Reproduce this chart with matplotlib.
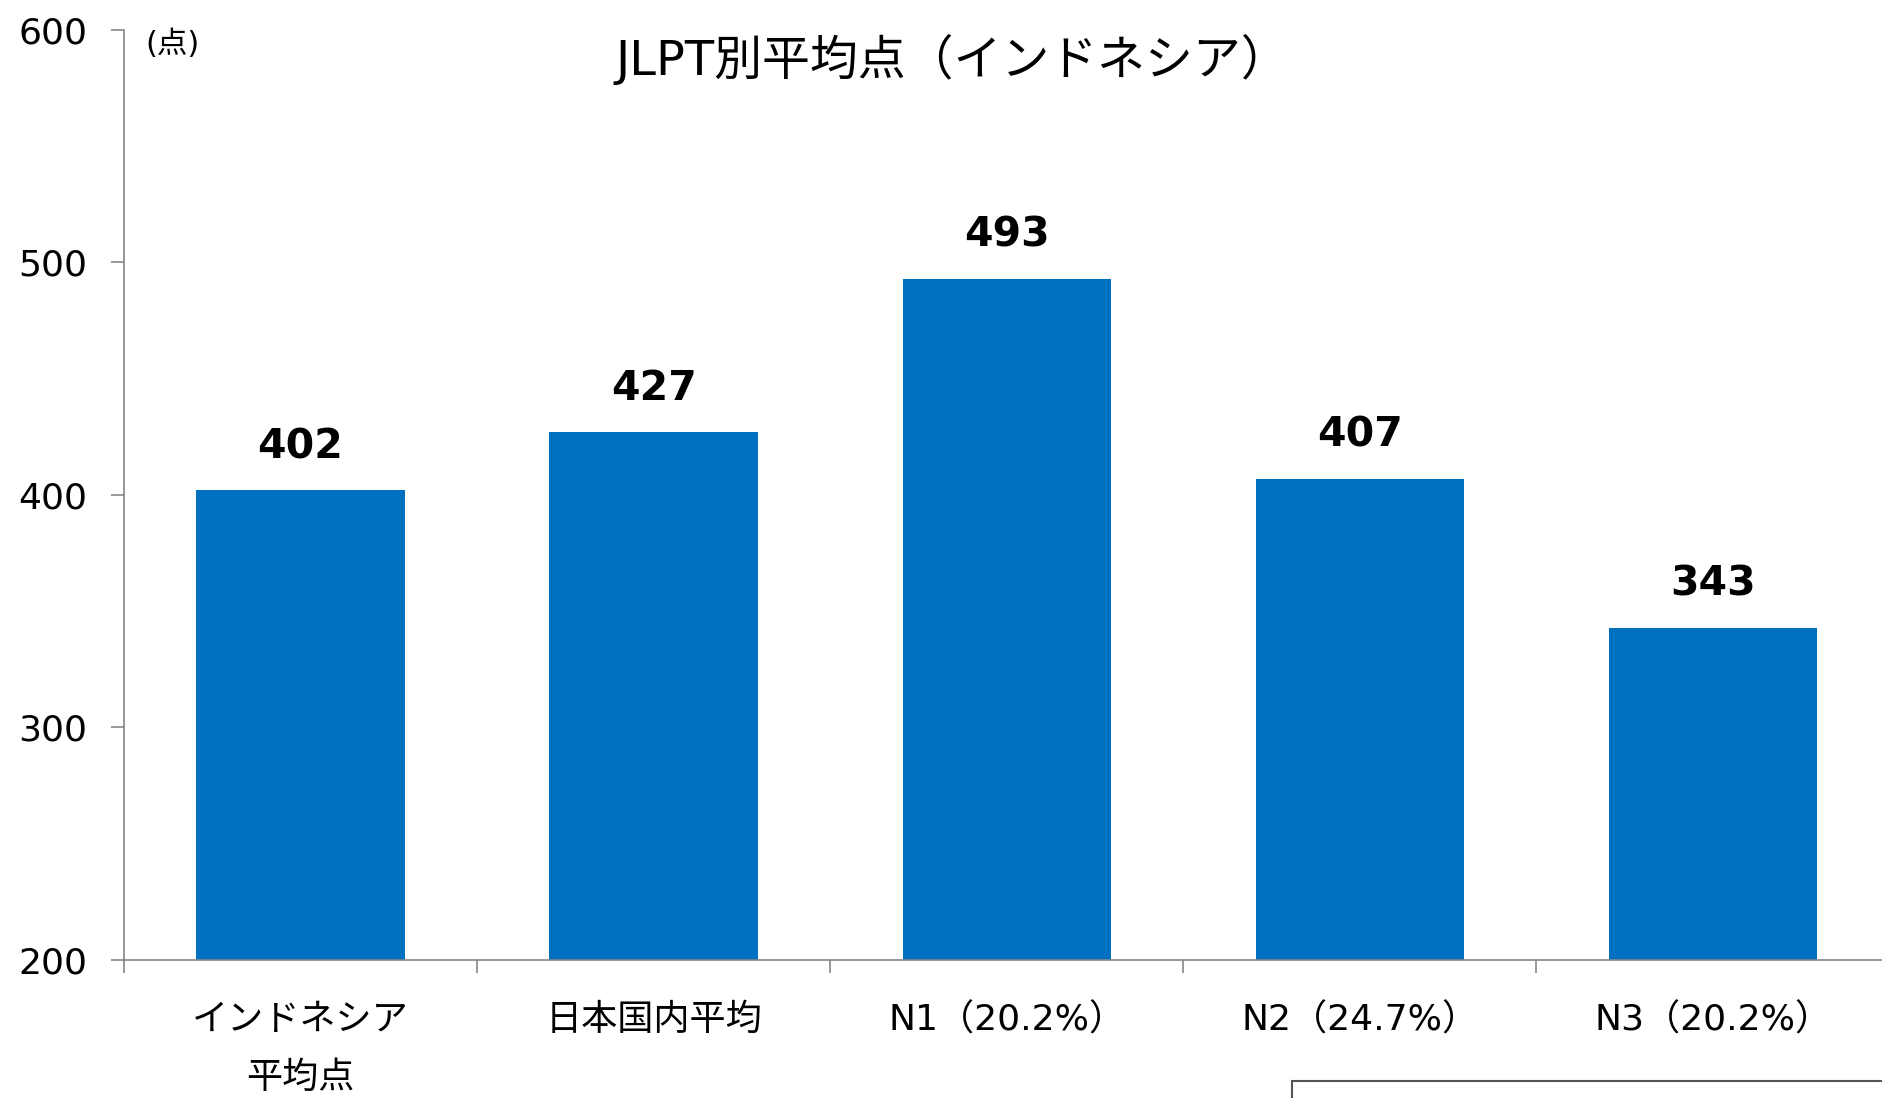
import matplotlib.pyplot as plt
from matplotlib.patches import Rectangle

plt.rcParams['font.family'] = ['DejaVu Sans', 'Noto Sans CJK JP']

# data
categories = ['インドネシア\n平均点', '日本国内平均', 'N1（20.2%）', 'N2（24.7%）', 'N3（20.2%）']
scores = [402, 427, 493, 407, 343]
y_ticks = [200, 300, 400, 500, 600]

bar_color = '#0070C0'
axis_color = '#868686'

fig = plt.figure(figsize=(18.82, 10.98), dpi=100)
# axes runs past the right edge like the original slide crop
ax = fig.add_axes([0.0659, 0.1257, 0.938, 0.847])

x = list(range(len(categories)))
ax.bar(x, scores, width=0.59, color=bar_color, zorder=2)

for xi, v in zip(x, scores):
    ax.annotate(str(v), (xi, v), xytext=(0, 31), textcoords='offset points',
                ha='center', va='center', fontsize=29.5, fontweight='bold')

ax.set_xlim(-0.5, 4.5)
ax.set_ylim(200, 600)
ax.set_yticks(y_ticks)
ax.tick_params(axis='y', labelsize=26, length=9.5, width=1.2, color=axis_color, pad=17)

ax.set_xticks(x)
ax.set_xticklabels(categories, fontsize=26, linespacing=1.9)
ax.tick_params(axis='x', which='major', length=0, pad=31)
ax.set_xticks([i + 0.5 for i in range(-1, 5)], minor=True)
ax.tick_params(axis='x', which='minor', length=9, width=1.2, color=axis_color)

for s in ['top', 'right']:
    ax.spines[s].set_visible(False)
for s in ['left', 'bottom']:
    ax.spines[s].set_color(axis_color)
    ax.spines[s].set_linewidth(1.2)

ax.text(0.012, 0.985, '(点)', transform=ax.transAxes, fontsize=22, va='center', ha='left')

fig.text(0.506, 0.946, 'JLPT別平均点（インドネシア）', fontsize=34.5, ha='center', va='center')

# partial box cut off at bottom right of the slide
fig.patches.append(Rectangle((1292 / 1882, -0.05), 0.5, 0.05 + 17 / 1098,
                             transform=fig.transFigure, fill=False,
                             edgecolor='#555555', linewidth=1.5))

fig.savefig('out.png', dpi=100)
